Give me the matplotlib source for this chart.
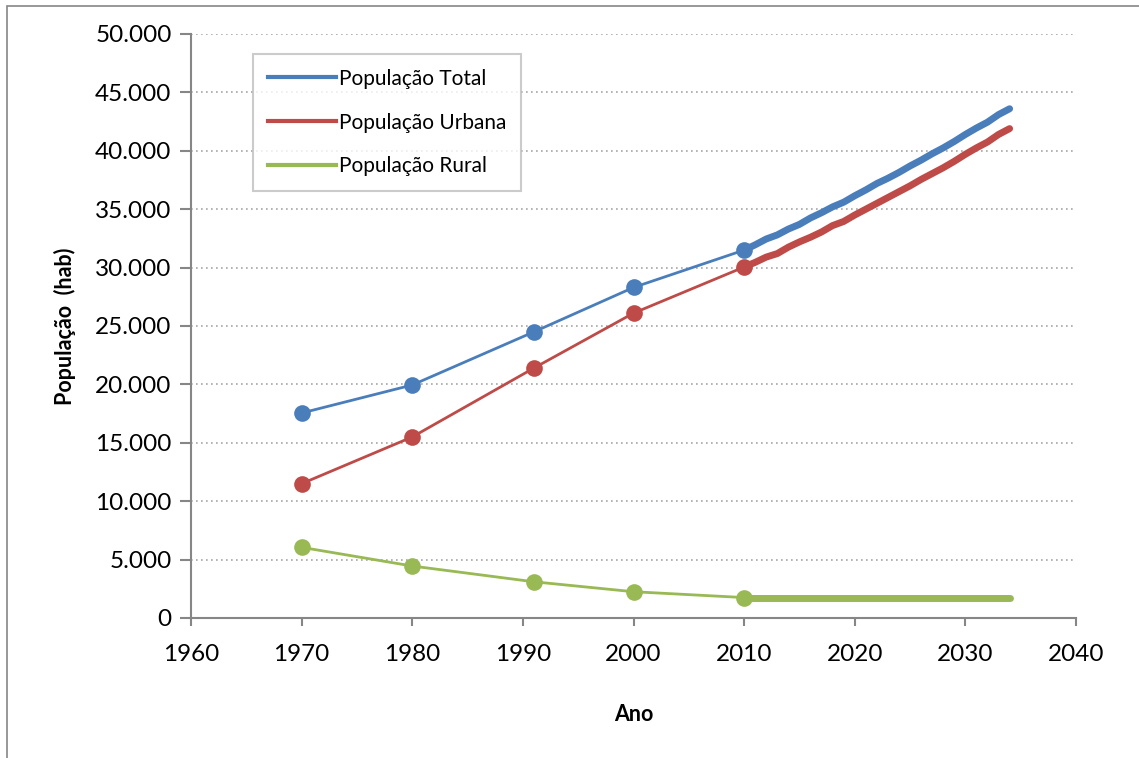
import matplotlib.pyplot as plt
from matplotlib.ticker import FuncFormatter
from matplotlib.lines import Line2D
from matplotlib.patches import Rectangle

# Censos (pontos)
anos_censo = [1970, 1980, 1991, 2000, 2010]
total_censo = [17550, 19950, 24500, 28300, 31500]
urbana_censo = [11500, 15500, 21400, 26100, 30050]
rural_censo = [6050, 4450, 3100, 2250, 1750]

# Projeção anual 2010-2034
anos_proj = list(range(2010, 2035))
total_proj = [31500, 31950, 32450, 32800, 33300, 33700, 34250, 34700, 35200, 35600,
              36150, 36650, 37200, 37650, 38150, 38700, 39200, 39750, 40250, 40800,
              41400, 41950, 42450, 43100, 43600]
urbana_proj = [30050, 30450, 30900, 31200, 31750, 32200, 32600, 33050, 33600, 33950,
               34500, 35000, 35500, 36000, 36500, 37000, 37550, 38050, 38550, 39100,
               39700, 40250, 40750, 41400, 41900]
rural_proj = [1700] * len(anos_proj)

cor_total = '#4A7EBB'
cor_urbana = '#BE4B48'
cor_rural = '#98B954'
cinza = '#868686'

plt.rcParams['font.family'] = ['Lato', 'DejaVu Sans']

fig = plt.figure(figsize=(11.39, 7.58), dpi=100)
ax = fig.add_axes([191 / 1139, 1 - 618 / 758, 885 / 1139, 584 / 758])

# moldura externa
fig.patches.append(Rectangle((7 / 1139, -0.05), 1.1, 1 - 6 / 758 + 0.05,
                             transform=fig.transFigure, fill=False,
                             edgecolor=cinza, linewidth=1.2))

for x, y, c in [(anos_censo, total_censo, cor_total),
                (anos_censo, urbana_censo, cor_urbana),
                (anos_censo, rural_censo, cor_rural)]:
    ax.plot(x, y, color=c, linewidth=2, marker='o', markersize=12,
            markeredgewidth=0, zorder=3)

for x, y, c in [(anos_proj, total_proj, cor_total),
                (anos_proj, urbana_proj, cor_urbana),
                (anos_proj, rural_proj, cor_rural)]:
    ax.plot(x, y, color=c, linewidth=5, solid_capstyle='round',
            solid_joinstyle='round', zorder=3)

ax.set_xlim(1960, 2040)
ax.set_ylim(0, 50000)
ax.set_xticks(range(1960, 2041, 10))
ax.set_yticks(range(0, 50001, 5000))
ax.yaxis.set_major_formatter(FuncFormatter(lambda v, p: f'{int(v):,}'.replace(',', '.')))

ax.grid(axis='y', linestyle=(0, (1, 2)), color='#A6A6A6', linewidth=1.2)
ax.set_axisbelow(True)
for s in ['top', 'right']:
    ax.spines[s].set_visible(False)
for s in ['left', 'bottom']:
    ax.spines[s].set_color(cinza)
    ax.spines[s].set_linewidth(1.5)
ax.tick_params(axis='both', colors=cinza, labelcolor='black', labelsize=17.5,
               width=1.5)
ax.tick_params(axis='y', length=8, pad=6)
ax.tick_params(axis='x', length=6, pad=13)

ax.set_xlabel('Ano', fontsize=15.5, fontweight='bold', labelpad=28)
ax.set_ylabel('População  (hab)', fontsize=15.5, fontweight='bold', labelpad=14)

handles = [Line2D([], [], color=cor_total, linewidth=3),
           Line2D([], [], color=cor_urbana, linewidth=3),
           Line2D([], [], color=cor_rural, linewidth=3)]
leg = ax.legend(handles, ['População Total', 'População Urbana', 'População Rural'],
                loc='upper left', bbox_to_anchor=(62 / 885, 1 - 20 / 584),
                fontsize=15, frameon=True, fancybox=False, handlelength=3.3,
                handletextpad=0.15, labelspacing=1.15, borderpad=0.7,
                borderaxespad=0)
leg.get_frame().set_edgecolor('#BFBFBF')
leg.get_frame().set_linewidth(1.5)

fig.savefig('out.png', dpi=100)
